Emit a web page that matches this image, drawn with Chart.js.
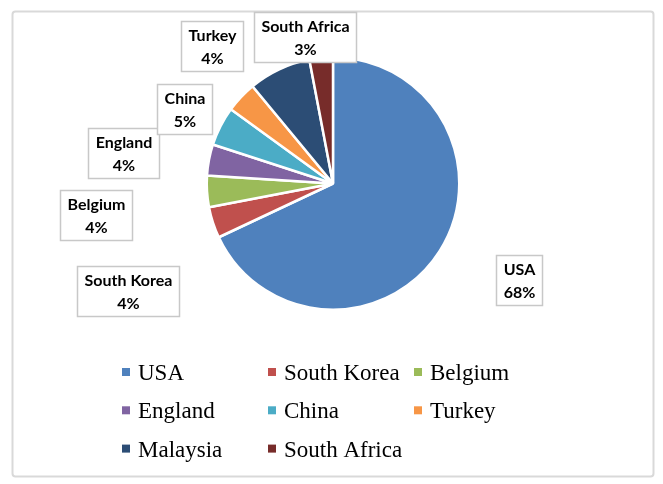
<!DOCTYPE html>
<html>
<head>
<meta charset="utf-8">
<script src="https://cdn.jsdelivr.net/npm/chart.js@4.4.1/dist/chart.umd.min.js"></script>
<style>
  html, body { margin: 0; padding: 0; background: #fff; }
  #wrap { width: 663px; height: 484px; position: relative; }
</style>
</head>
<body>
<div id="wrap"><canvas id="origin-chart"></canvas></div>
<script>
// Data
const countries = ['USA', 'South Korea', 'Belgium', 'England', 'China', 'Turkey', 'Malaysia', 'South Africa'];
const shares = [68, 4, 4, 4, 5, 4, 8, 3];
const sliceColors = ['#4F81BD', '#C0504D', '#9BBB59', '#8064A2', '#4BACC6', '#F79646', '#2C4D75', '#772C2A'];

// Callout box placement, offset from the pie centre in units of the radius
// (Malaysia has no callout in the original)
const calloutOffsets = [
    [1.476, 0.762],
    [-1.623, 0.849],
    [-1.881, 0.246],
    [-1.659, -0.238],
    [-1.175, -0.587],
    [-0.960, -1.091],
    null,
    [-0.222, -1.159]
];

// Outer frame
const framePlugin = {
    id: 'frame',
    beforeDraw(chart) {
        const ctx = chart.ctx;
        ctx.save();
        ctx.strokeStyle = '#d9d9d9';
        ctx.lineWidth = 2;
        ctx.beginPath();
        ctx.roundRect(12.5, 11.5, 641, 465, 3);
        ctx.stroke();
        ctx.restore();
    }
};

// Boxed data labels
const calloutPlugin = {
    id: 'callouts',
    afterDatasetsDraw(chart) {
        const ctx = chart.ctx;
        const meta = chart.getDatasetMeta(0);
        ctx.save();
        ctx.font = 'bold 16px Lato';
        ctx.textAlign = 'center';
        ctx.textBaseline = 'middle';
        meta.data.forEach((arc, i) => {
            const off = calloutOffsets[i];
            if (!off) return;
            const r = arc.outerRadius;
            const cx = arc.x + off[0] * r;
            const cy = arc.y + off[1] * r;
            const name = countries[i];
            const pct = shares[i] + '%';
            const w = Math.round(Math.max(ctx.measureText(name).width, ctx.measureText(pct).width) + 14);
            const h = 50;
            const x0 = Math.round(cx - w / 2) + 0.5;
            const y0 = Math.round(cy - h / 2) + 0.5;
            ctx.fillStyle = '#ffffff';
            ctx.fillRect(x0, y0, w, h);
            ctx.strokeStyle = '#c8c8c8';
            ctx.lineWidth = 1.5;
            ctx.strokeRect(x0, y0, w, h);
            ctx.fillStyle = '#000000';
            ctx.fillText(name, x0 + w / 2, y0 + 14);
            ctx.fillText(pct, x0 + w / 2, y0 + 37);
        });
        ctx.restore();
    }
};

// Three-column legend underneath
const legendPlugin = {
    id: 'gridLegend',
    afterDraw(chart) {
        const ctx = chart.ctx;
        const colors = chart.data.datasets[0].backgroundColor;
        ctx.save();
        ctx.font = '23px "Liberation Serif"';
        ctx.textAlign = 'left';
        ctx.textBaseline = 'alphabetic';
        chart.data.labels.forEach((label, i) => {
            const col = i % 3;
            const row = Math.floor(i / 3);
            const x = 122 + col * 146;
            const y = 372 + row * 38.3;
            ctx.fillStyle = colors[i];
            ctx.fillRect(x, y - 4, 8, 8);
            ctx.fillStyle = '#000000';
            ctx.fillText(label, x + 16, y + 8);
        });
        ctx.restore();
    }
};

const ctx = document.getElementById('origin-chart').getContext('2d');
new Chart(ctx, {
    type: 'pie',
    data: {
        labels: countries,
        datasets: [{
            data: shares,
            backgroundColor: sliceColors,
            borderColor: '#ffffff',
            borderWidth: 2.5
        }]
    },
    options: {
        responsive: true,
        maintainAspectRatio: false,
        animation: false,
        layout: {
            padding: { top: 56, bottom: 173, left: 150, right: 147 }
        },
        plugins: {
            legend: { display: false },
            tooltip: { enabled: false }
        }
    },
    plugins: [framePlugin, calloutPlugin, legendPlugin]
});
</script>
</body>
</html>
